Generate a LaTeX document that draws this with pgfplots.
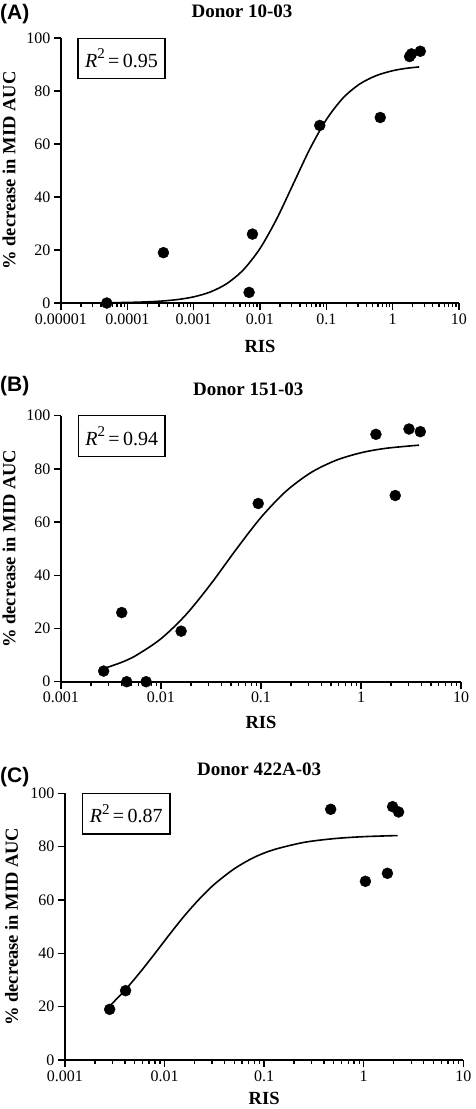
\documentclass[border=0pt]{standalone}
\usepackage{fontspec}
\setmainfont{Liberation Serif}
\newfontfamily\arialfont{Liberation Sans}
\usepackage{pgfplots}
\pgfplotsset{compat=1.18}

\pgfplotsset{
  mypanel/.style={
    scale only axis, clip=false,
    axis x line*=bottom, axis y line*=left,
    axis line style={line width=1.6pt, black},
    ymin=0, ymax=100, ytick={0,20,40,60,80,100},
    tick align=outside,
    major tick length=7pt, minor tick length=4pt,
    every tick/.style={black, line width=1.3pt},
    every minor tick/.style={black, line width=1.3pt},
    tick label style={font=\fontsize{16}{18}\selectfont},
    /pgf/number format/assume math mode=true,
    xlabel={\textbf{RIS}},
    ylabel={\textbf{\% decrease in MID AUC}},
    label style={font=\fontsize{18.5}{20}\selectfont},
    xlabel style={anchor=center},
    ylabel style={anchor=center},
  },
}

\newcommand{\rbox}[1]{\fontsize{20}{22}\selectfont\textit{R}\raisebox{0.42em}{\fontsize{15}{15}\selectfont 2}\,=\,#1}

\begin{document}
\begin{tikzpicture}
\path[use as bounding box] (0,0) rectangle (475pt,-1109pt);

% ---------------- Panel A ----------------
\begin{axis}[xmode=log, mypanel, at={(61pt,-303pt)}, anchor=south west,
  width=398pt, height=265pt,
  xmin=1e-5, xmax=10,
  xtick={1e-5,1e-4,1e-3,1e-2,1e-1,1,10},
  xticklabels={0.00001,0.0001,0.001,0.01,0.1,1,10},
  minor xtick={2e-5,3e-5,4e-5,5e-5,6e-5,7e-5,8e-5,9e-5,
    2e-4,3e-4,4e-4,5e-4,6e-4,7e-4,8e-4,9e-4,
    0.002,0.003,0.004,0.005,0.006,0.007,0.008,0.009,
    0.02,0.03,0.04,0.05,0.06,0.07,0.08,0.09,
    0.2,0.3,0.4,0.5,0.6,0.7,0.8,0.9,
    2,3,4,5,6,7,8,9},
  xlabel style={at={(axis description cs:0.5,-0.163)}},
  ylabel style={at={(axis description cs:-0.1307,0.5)}},
]
\addplot[black, line width=1.6pt, smooth, mark=none] coordinates {
 (5.012e-5,0.10) (1e-4,0.21) (1.778e-4,0.39) (3.162e-4,0.70) (5.623e-4,1.28)
 (0.001,2.32) (0.001778,4.15) (0.003162,7.32) (0.005623,12.54) (0.01,20.57)
 (0.01778,31.65) (0.03162,44.84) (0.05623,58.05) (0.1,69.19) (0.1778,77.30)
 (0.3162,82.58) (0.5623,85.79) (1,87.65) (1.585,88.54) (2.512,89.09)
};
\addplot[only marks, mark=*, mark size=5.5pt, mark options={fill=black, draw=black}] coordinates {
 (4.9e-5,0) (3.5e-4,19) (0.00685,4) (0.0077,26) (0.0796,67)
 (0.65,70) (1.80,93) (1.92,94) (2.61,95)
};
\end{axis}
\node[anchor=base west, inner sep=0, font=\arialfont\bfseries\fontsize{21}{22}\selectfont] at (0pt,-19.5pt) {(A)};
\node[anchor=base, inner sep=0, font=\bfseries\fontsize{19}{20}\selectfont] at (242pt,-17.3pt) {Donor 10-03};
\node[draw, line width=1.3pt, minimum width=87pt, minimum height=40pt, inner sep=0] at (121.5pt,-58.3pt) {\rbox{0.95}};

% ---------------- Panel B ----------------
\begin{axis}[xmode=log, mypanel, at={(61pt,-681.7pt)}, anchor=south west,
  width=400pt, height=266pt,
  xmin=1e-3, xmax=10,
  xtick={1e-3,1e-2,1e-1,1,10},
  xticklabels={0.001,0.01,0.1,1,10},
  minor xtick={0.002,0.003,0.004,0.005,0.006,0.007,0.008,0.009,
    0.02,0.03,0.04,0.05,0.06,0.07,0.08,0.09,
    0.2,0.3,0.4,0.5,0.6,0.7,0.8,0.9,
    2,3,4,5,6,7,8,9},
  xlabel style={at={(axis description cs:0.5,-0.152)}},
  ylabel style={at={(axis description cs:-0.13,0.5)}},
]
\addplot[black, line width=1.6pt, smooth, mark=none] coordinates {
 (0.002692,5.0) (0.003981,7.2) (0.005623,9.86) (0.01,16.16) (0.01778,25.21)
 (0.03162,36.80) (0.05623,49.65) (0.1,61.77) (0.1778,71.60) (0.3162,78.63)
 (0.5623,83.23) (1,86.07) (1.778,87.75) (3.802,88.93)
};
\addplot[only marks, mark=*, mark size=5.5pt, mark options={fill=black, draw=black}] coordinates {
 (0.00267,4) (0.00405,26) (0.00454,0) (0.0071,0) (0.0159,19)
 (0.0938,67) (1.41,93) (2.20,70) (3.02,95) (3.92,94)
};
\end{axis}
\node[anchor=base west, inner sep=0, font=\arialfont\bfseries\fontsize{21}{22}\selectfont] at (0pt,-391.7pt) {(B)};
\node[anchor=base, inner sep=0, font=\bfseries\fontsize{19}{20}\selectfont] at (248.2pt,-395.7pt) {Donor 151-03};
\node[draw, line width=1.3pt, minimum width=86.7pt, minimum height=41pt, inner sep=0] at (121.7pt,-436.2pt) {\rbox{0.94}};

% ---------------- Panel C ----------------
\begin{axis}[xmode=log, mypanel, at={(65pt,-1060pt)}, anchor=south west,
  width=398.3pt, height=266.7pt,
  xmin=1e-3, xmax=10,
  xtick={1e-3,1e-2,1e-1,1,10},
  xticklabels={0.001,0.01,0.1,1,10},
  minor xtick={0.002,0.003,0.004,0.005,0.006,0.007,0.008,0.009,
    0.02,0.03,0.04,0.05,0.06,0.07,0.08,0.09,
    0.2,0.3,0.4,0.5,0.6,0.7,0.8,0.9,
    2,3,4,5,6,7,8,9},
  xlabel style={at={(axis description cs:0.5,-0.145)}},
  ylabel style={at={(axis description cs:-0.134,0.5)}},
]
\addplot[black, line width=1.6pt, smooth, mark=none] coordinates {
 (0.002754,19.9) (0.003981,26.1) (0.005623,32.7) (0.007943,39.8) (0.01122,47.1)
 (0.01585,54.1) (0.02239,60.4) (0.03162,65.9) (0.05012,71.7) (0.07943,76.0)
 (0.1259,78.9) (0.2512,81.6) (0.5012,83.0) (1,83.75) (2.188,84.16)
};
\addplot[only marks, mark=*, mark size=5.5pt, mark options={fill=black, draw=black}] coordinates {
 (0.00281,19) (0.00406,26) (0.466,94) (1.04,67) (1.73,70) (1.95,95) (2.24,93)
};
\end{axis}
\node[anchor=base west, inner sep=0, font=\arialfont\bfseries\fontsize{21}{22}\selectfont] at (0pt,-782pt) {(C)};
\node[anchor=base, inner sep=0, font=\bfseries\fontsize{19}{20}\selectfont] at (259.2pt,-775pt) {Donor 422A-03};
\node[draw, line width=1.3pt, minimum width=87.7pt, minimum height=40.7pt, inner sep=0] at (126.2pt,-813.7pt) {\rbox{0.87}};
\end{tikzpicture}
\end{document}
